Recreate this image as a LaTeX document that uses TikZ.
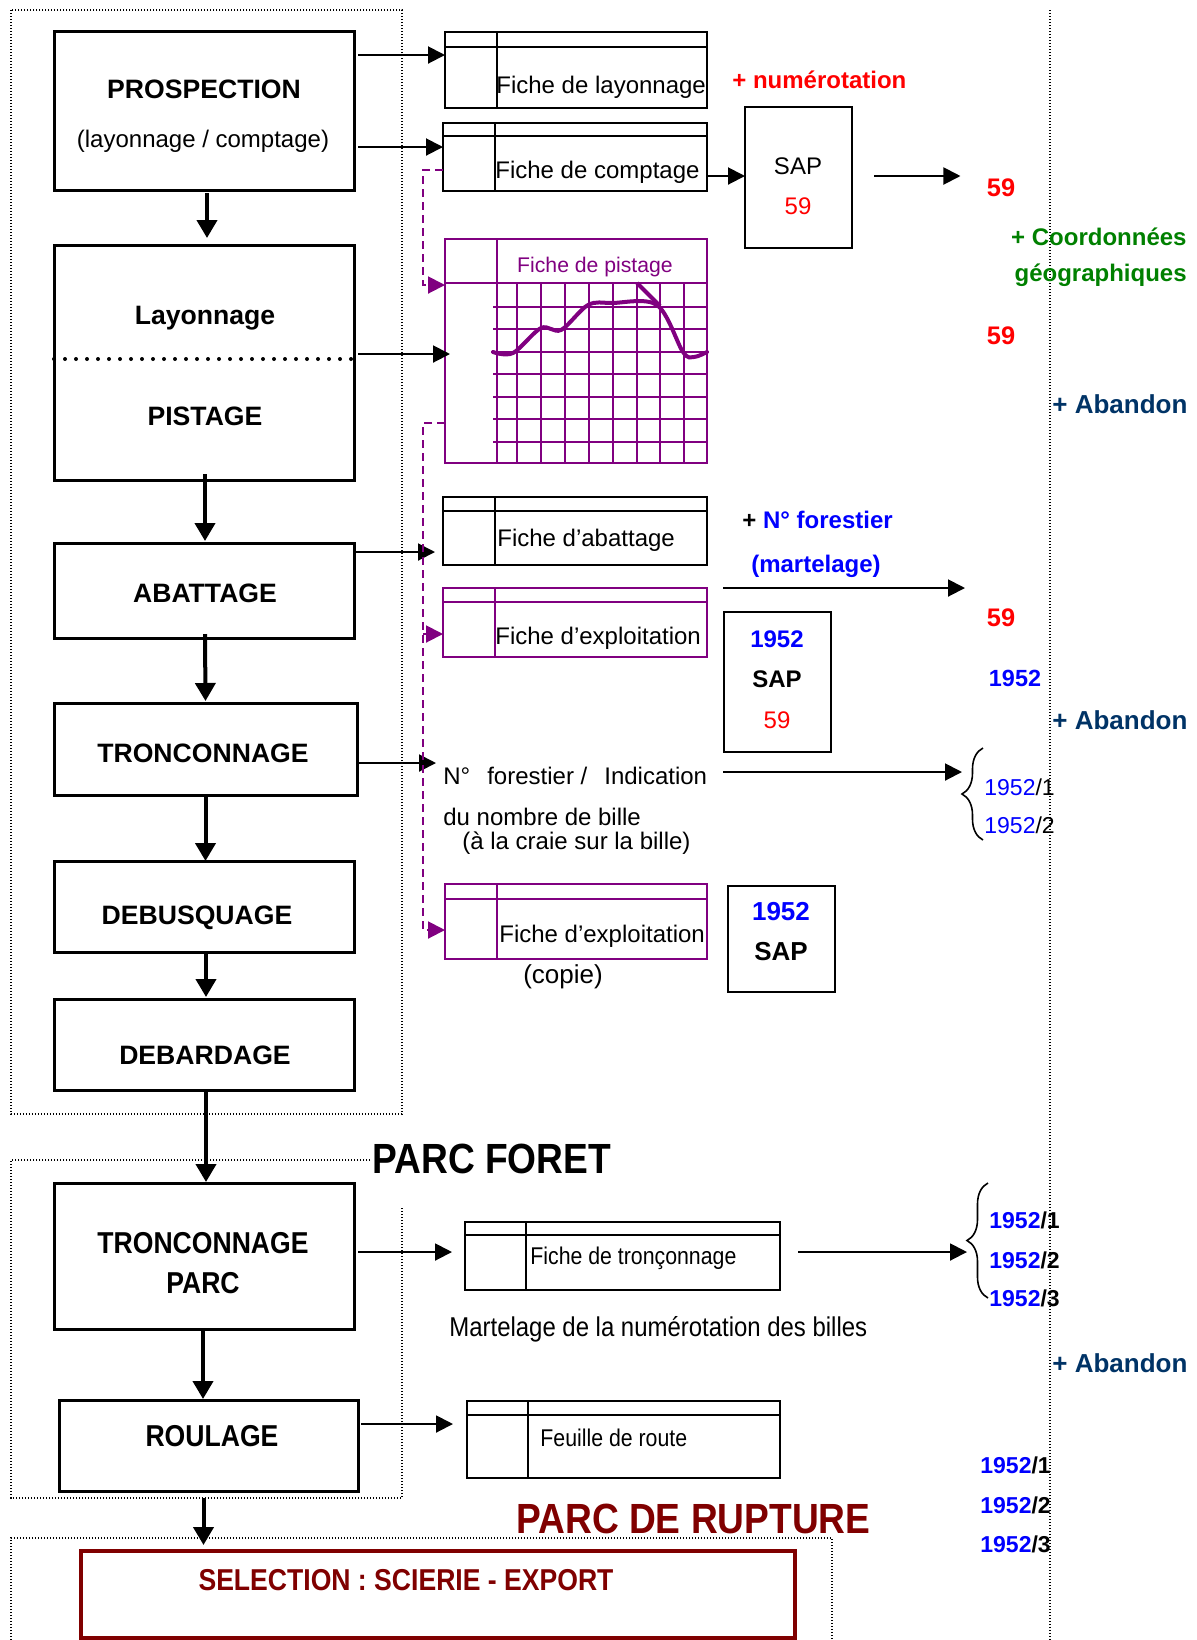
\documentclass[tikz,border=0pt]{standalone}
\usepackage{fontspec}
\setmainfont{Liberation Sans}
\newfontfamily\narrowfont[FakeStretch=0.88]{Liberation Sans}
\usepackage{xcolor}
\usepackage{tikz}
\usetikzlibrary{positioning,arrows.meta,calc,decorations.pathreplacing}
\definecolor{numred}{RGB}{255,0,0}
\definecolor{numblue}{RGB}{0,0,255}
\definecolor{geogreen}{RGB}{0,128,0}
\definecolor{abnavy}{RGB}{0,51,102}
\definecolor{pistviolet}{RGB}{128,0,128}
\definecolor{ruptred}{RGB}{128,0,0}
% header line and first column of a record sheet
\newcommand{\formlines}[4]{%
  \draw[#2, line width=1pt] ($(#1.north west)+(0,#3)$) -- ($(#1.north east)+(0,#3)$);
  \draw[#2, line width=1pt] ($(#1.north west)+(#4,0)$) -- ($(#1.south west)+(#4,0)$);
}

\begin{document}
\begin{tikzpicture}[
      x=0.5pt, y=-0.5pt,
      stepbox/.style ={draw=black, line width=1.5pt, inner sep=0pt, outer sep=0pt},
      form/.style    ={draw=black, line width=1pt, inner sep=0pt, outer sep=0pt},
      pform/.style   ={draw=pistviolet, line width=1pt, inner sep=0pt, outer sep=0pt},
      sapbox/.style  ={draw=black, line width=1pt, inner sep=0pt, outer sep=0pt},
      selbox/.style  ={draw=ruptred, line width=2pt, inner sep=0pt, outer sep=0pt},
      txt/.style     ={inner sep=0pt, font=\fontsize{12}{14}\selectfont},
      btxt/.style    ={inner sep=0pt, font=\bfseries\fontsize{12}{14}\selectfont},
      steptxt/.style ={inner sep=0pt, font=\bfseries\fontsize{13.3}{16}\selectfont},
      ntxt/.style    ={inner sep=0pt, font=\narrowfont\fontsize{13.6}{16}\selectfont},
      nsteptxt/.style={inner sep=0pt, font=\narrowfont\bfseries\fontsize{15.1}{18}\selectfont},
      parctxt/.style ={inner sep=0pt, font=\narrowfont\bfseries\fontsize{21.1}{24}\selectfont},
      bigarr/.style  ={-{Triangle[width=10pt,length=9pt]}, line width=2pt},
      arr/.style     ={-{Triangle[width=8.5pt,length=8.5pt]}, line width=1pt},
      pdash/.style   ={draw=pistviolet, line width=1pt, dash pattern=on 4pt off 2.5pt},
      parr/.style    ={pdash, -{Triangle[width=8.5pt,length=8.5pt]}},
      grp/.style     ={line width=0.7pt, dash pattern=on 0.7pt off 0.8pt},
      sepdots/.style ={line width=2pt, line cap=round, dash pattern=on 0pt off 5.5pt},
      pgrid/.style   ={draw=pistviolet, line width=1pt}
    ]
    \useasboundingbox (0,0) rectangle (1197,1640);
    % --- dotted groupings ---
    \draw[grp] (11,10) rectangle (402,1114);
    \draw[grp] (370,1160) -- (11,1160) -- (11,1498) -- (402,1498) -- (402,1208);
    \draw[grp] (11,1640) -- (11,1538) -- (832,1538) -- (832,1640);
    \draw[grp] (1050,10) -- (1050,1640);
    % --- chain of operations ---
    \node[stepbox, minimum width=150pt,   minimum height=79.5pt]  (prosp)  at (204,110.5) {};
    \node[stepbox, minimum width=150pt,   minimum height=117.5pt] (pist)   at (204,362.5) {};
    \node[stepbox, minimum width=150pt,   minimum height=47.5pt]  (abat)   at (204,590.5) {};
    \node[stepbox, minimum width=151.5pt, minimum height=46pt]    (tronc)  at (205.5,749) {};
    \node[stepbox, minimum width=150pt,   minimum height=45.5pt]  (debus)  at (204,906.5) {};
    \node[stepbox, minimum width=150pt,   minimum height=45.5pt]  (debard) at (204,1044.5) {};
    \node[stepbox, minimum width=150pt,   minimum height=73pt]    (troncp) at (204,1256) {};
    \node[stepbox, minimum width=149.5pt, minimum height=45.5pt]  (roul)   at (208.5,1445.5) {};
    \node[selbox,  minimum width=357pt,   minimum height=43.5pt]  (sel)    at (438,1594.5) {};
    \draw[sepdots] ($(pist.north west)+(0,114)$) -- ($(pist.north east)+(0,114)$);
    \node[steptxt] (tProsp)   at (204,89)   {PROSPECTION};
    \node[txt]     (tProspS)  at (203,141)  {(layonnage / comptage)};
    \node[steptxt] (tLay)     at (205,318)  {Layonnage};
    \node[steptxt] (tPist)    at (205,416)  {PISTAGE};
    \node[steptxt] (tAbat)    at (205,593)  {ABATTAGE};
    \node[steptxt] (tTronc)   at (203,753)  {TRONCONNAGE};
    \node[steptxt] (tDebus)   at (197,918)  {DEBUSQUAGE};
    \node[steptxt] (tDebard)  at (205,1055) {DEBARDAGE};
    \node[nsteptxt] (tTroncP) at (203,1243) {TRONCONNAGE};
    \node[nsteptxt] (tParc)   at (203,1283) {PARC};
    \node[nsteptxt] (tRoul)   at (212,1436) {ROULAGE};
    \node[nsteptxt, text=ruptred] (tSel) at (406,1580) {SELECTION : SCIERIE - EXPORT};
    \node[parctxt, anchor=west] (tParcF) at (372,1159) {PARC FORET};
    \node[parctxt, anchor=west, text=ruptred] (tParcR) at (516,1519) {PARC DE RUPTURE};
    % --- record sheets ---
    \node[form,  minimum width=131pt,   minimum height=38pt]   (fl)  at (576,70) {};
    \node[form,  minimum width=132pt,   minimum height=34pt]   (fc)  at (575,157) {};
    \node[pform, minimum width=131pt,   minimum height=112pt]  (fp)  at (576,351) {};
    \node[form,  minimum width=132pt,   minimum height=34pt]   (fa)  at (575,531) {};
    \node[pform, minimum width=132pt,   minimum height=34.5pt] (fe)  at (575,622.5) {};
    \node[pform, minimum width=131pt,   minimum height=37.5pt] (fe2) at (576,921.5) {};
    \node[form,  minimum width=157.5pt, minimum height=34pt]   (ft)  at (622.5,1256) {};
    \node[form,  minimum width=156.5pt, minimum height=38.5pt] (fr)  at (623.5,1439.5) {};
    \formlines{fl}{black}{15}{52}
    \formlines{fc}{black}{13}{52}
    \formlines{fp}{pistviolet}{44}{52}
    \formlines{fa}{black}{14}{52}
    \formlines{fe}{pistviolet}{14}{52}
    \formlines{fe2}{pistviolet}{15}{52}
    \formlines{ft}{black}{13}{61}
    \formlines{fr}{black}{14}{61}
    % grid and track of the pistage sheet
    \foreach \gx in {517,541,565,589,613,637,660,684}
      \draw[pgrid] (\gx,283) -- (\gx,463);
    \foreach \gy in {307,329,352,374,397,419,442}
      \draw[pgrid] (493,\gy) -- (707,\gy);
    \draw[pistviolet, line width=2pt, line cap=round] plot[smooth, tension=0.55]
      coordinates {(493,352) (513,353) (541,328) (561,330) (588,305) (612,303)
                   (657,305) (683,352) (694,357) (707,352)};
    \draw[pistviolet, line width=2pt] (637,283) -- (660,306);
    \node[txt, anchor=west] (tFl)  at (496,87)  {Fiche de layonnage};
    \node[txt, anchor=west] (tFc)  at (495,172) {Fiche de comptage};
    \node[txt, text=pistviolet, font=\fontsize{10.6}{12}\selectfont] (tFp) at (595,267) {Fiche de pistage};
    \node[txt, anchor=west] (tFa)  at (497,540) {Fiche d’abattage};
    \node[txt, anchor=west] (tFe)  at (495,638) {Fiche d’exploitation};
    \node[txt, anchor=west] (tFe2) at (499,936) {Fiche d’exploitation};
    \node[txt, font=\fontsize{13}{15}\selectfont] (tCopie) at (563,977) {(copie)};
    \node[ntxt, anchor=west, font=\narrowfont\fontsize{12.1}{14}\selectfont] (tFt) at (530,1258) {Fiche de tronçonnage};
    \node[ntxt, anchor=west, font=\narrowfont\fontsize{12.1}{14}\selectfont] (tFr) at (540,1438) {Feuille de route};
    \node[ntxt, anchor=west] (tMart) at (449,1329) {Martelage de la numérotation des billes};
    \node[txt, anchor=west] (ntext)  at (443,776) {N°\hspace{8.5pt}forestier /\hspace{8.5pt}Indication};
    \node[txt, anchor=west] (ntext2) at (443,817) {du nombre de bille};
    \node[txt, anchor=west] (ntext3) at (462,843) {(à la craie sur la bille)};
    % --- SAP boxes ---
    \node[sapbox, minimum width=53.5pt, minimum height=70.5pt] (sap1) at (798.5,177.5) {};
    \node[sapbox, minimum width=53.5pt, minimum height=70pt]   (sap2) at (777.5,682) {};
    \node[sapbox, minimum width=53.5pt, minimum height=53pt]   (sap3) at (781.5,939) {};
    \node[txt] (tSap1)  at (798,166) {SAP};
    \node[txt, text=numred] (tSap1n) at (798,206) {59};
    \node[btxt, text=numblue] (tSap2y) at (777,639) {1952};
    \node[btxt] (tSap2) at (777,679) {SAP};
    \node[txt, text=numred] (tSap2n) at (777,720) {59};
    \node[btxt, text=numblue, font=\bfseries\fontsize{13}{15}\selectfont] (tSap3y) at (781,912) {1952};
    \node[btxt, font=\bfseries\fontsize{13}{15}\selectfont] (tSap3) at (781,952) {SAP};
    % --- notes on the right ---
    \node[btxt, text=numred, anchor=west] (tNum) at (732,80) {+ numérotation};
    \node[btxt, text=numred, font=\bfseries\fontsize{12.7}{15}\selectfont] (n59a) at (1001,188) {59};
    \node[btxt, text=geogreen, anchor=east, font=\bfseries\fontsize{12}{14}\selectfont] (tCoord) at (1187,237) {+ Coordonnées};
    \node[btxt, text=geogreen, anchor=east, font=\bfseries\fontsize{12}{14}\selectfont] (tGeo) at (1187,275) {géographiques};
    \node[btxt, text=numred, font=\bfseries\fontsize{12.7}{15}\selectfont] (n59b) at (1001,336) {59};
    \node[btxt, text=abnavy, anchor=west, font=\bfseries\fontsize{13}{15}\selectfont] (tAb1) at (1052,404) {+ Abandon};
    \node[btxt, anchor=west] (tNf) at (742,520) {+ {\color{numblue}N° forestier}};
    \node[btxt, text=numblue] (tMartel) at (816,566) {(martelage)};
    \node[btxt, text=numred, font=\bfseries\fontsize{12.7}{15}\selectfont] (n59c) at (1001,618) {59};
    \node[btxt, text=numblue, font=\bfseries\fontsize{11.7}{14}\selectfont] (n1952) at (1015,678) {1952};
    \node[btxt, text=abnavy, anchor=west, font=\bfseries\fontsize{13}{15}\selectfont] (tAb2) at (1052,720) {+ Abandon};
    \node[txt, anchor=west, font=\fontsize{11.5}{14}\selectfont] (tB1) at (984,787) {{\color{numblue}1952}/1};
    \node[txt, anchor=west, font=\fontsize{11.5}{14}\selectfont] (tB2) at (984,825) {{\color{numblue}1952}/2};
    \node[btxt, anchor=west, font=\bfseries\fontsize{11.5}{14}\selectfont] (tC1) at (989,1220) {{\color{numblue}1952}/1};
    \node[btxt, anchor=west, font=\bfseries\fontsize{11.5}{14}\selectfont] (tC2) at (989,1260) {{\color{numblue}1952}/2};
    \node[btxt, anchor=west, font=\bfseries\fontsize{11.5}{14}\selectfont] (tC3) at (989,1298) {{\color{numblue}1952}/3};
    \node[btxt, text=abnavy, anchor=west, font=\bfseries\fontsize{13}{15}\selectfont] (tAb3) at (1052,1363) {+ Abandon};
    \node[btxt, anchor=west, font=\bfseries\fontsize{11.5}{14}\selectfont] (tD1) at (980,1465) {{\color{numblue}1952}/1};
    \node[btxt, anchor=west, font=\bfseries\fontsize{11.5}{14}\selectfont] (tD2) at (980,1505) {{\color{numblue}1952}/2};
    \node[btxt, anchor=west, font=\bfseries\fontsize{11.5}{14}\selectfont] (tD3) at (980,1544) {{\color{numblue}1952}/3};
    % --- braces ---
    \draw[decorate, decoration={brace, amplitude=10.5pt}, line width=0.8pt] (983,840) -- (983,748);
    \draw[decorate, decoration={brace, amplitude=10.5pt}, line width=0.8pt] (988,1298) -- (988,1183);
    % --- arrows down the chain ---
    \draw[bigarr] ($(prosp.south)+(3,3)$)   -- ($(pist.north)+(3,-7)$);
    \draw[bigarr] ($(pist.south)+(1,-6)$)   -- ($(abat.north)+(1,-2)$);
    \draw[bigarr] ($(abat.south)+(1,-4)$)   -- ($(tronc.north)+(0,-2)$);
    \draw[bigarr] (tronc.south) -- (tronc.south |- debus.north);
    \draw[bigarr] ($(debus.south)+(2,2)$)   -- ($(debard.north)+(2,-2)$);
    \draw[bigarr] ($(debard.south)+(2,0)$)  -- ($(troncp.north)+(2,-1)$);
    \draw[bigarr] ($(troncp.south)+(-1,0)$) -- ($(troncp.south |- roul.north)+(-1,-1)$);
    \draw[bigarr] ($(roul.south)+(-5,7)$)   -- ($(roul.south |- sel.north)+(-5,-6)$);
    % --- arrows to the sheets ---
    \draw[arr] ($(prosp.north east)+(4,24)$)  -- ($(fl.north west)+(0,23)$);
    \draw[arr] ($(prosp.north east)+(4,116)$) -- ($(fc.north west)+(0,24)$);
    \draw[arr] ($(pist.north east)+(4,109)$)  -- ($(fp.north west)+(5,115)$);
    \draw[arr] ($(abat.north east)+(0,9)$)    -- ($(fa.north west)+(-8,55)$);
    \draw[arr] ($(tronc.east)+(0,14)$)        -- ($(ntext.west)+(-7,-13)$);
    \draw[arr] ($(troncp.east)+(4,-4)$)       -- ($(ft.west)+(-13,-4)$);
    \draw[arr] ($(roul.east)+(3,-21.5)$)      -- ($(fr.west)+(-14,-15.5)$);
    \draw[arr] ($(fc.east)+(0,19)$)           -- ($(sap1.west)+(0,-1.5)$);
    \draw[arr] ($(sap1.east)+(22,-1.5)$)      -- ($(n59a.west)+(-26,-12)$);
    \coordinate (mlA) at (723,588);
    \coordinate (mlB) at (965,588);
    \draw[arr] (mlA) -- (mlB);
    \coordinate (nfA) at (723,772);
    \coordinate (nfB) at (962,772);
    \draw[arr] (nfA) -- (nfB);
    \coordinate (br2) at (967,1252);
    \draw[arr] ($(ft.east)+(18,-4)$) -- (br2);
    % --- copies of the pistage / exploitation sheets ---
    \draw[parr] ($(fc.north west)+(0,47)$) -- ++(-20,0) |- ($(fp.north west)+(0,46)$);
    \draw[parr] ($(fp.north west)+(0,184)$) -- ++(-22,0) |- ($(fe2.north west)+(0,46)$);
    \coordinate (pbus) at ($(fe.north west)+(-20,46)$);
    \draw[parr] (pbus) -- ($(fe.north west)+(0,46)$);
  \end{tikzpicture}
\end{document}
